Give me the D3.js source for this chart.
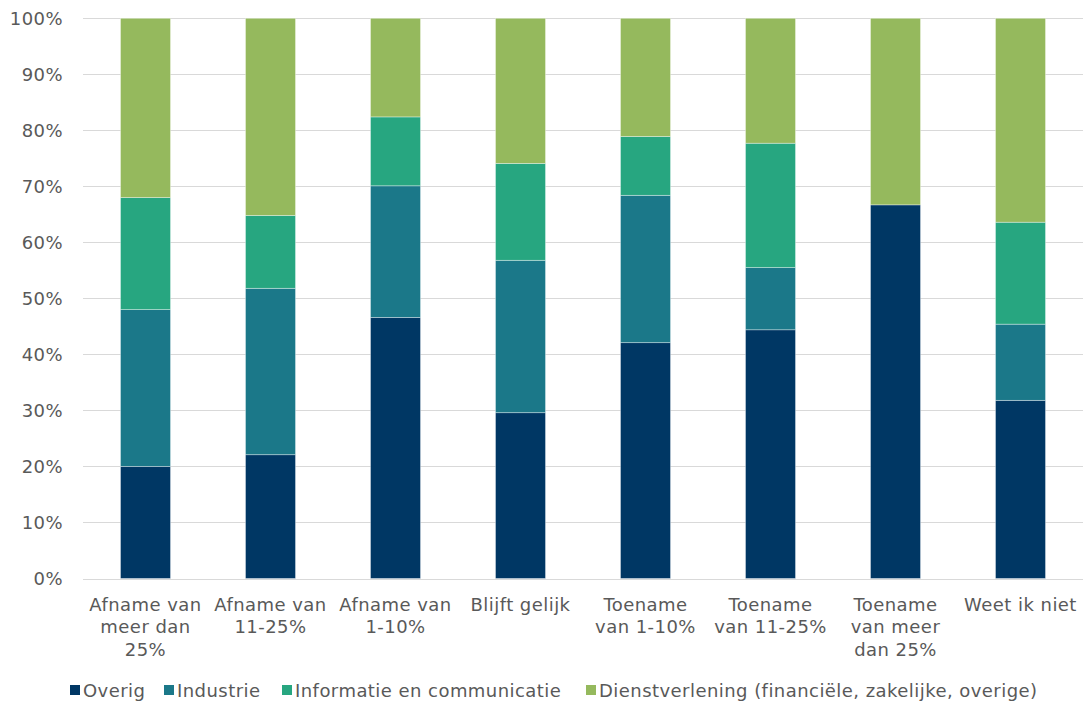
<!DOCTYPE html>
<html>
<head>
<meta charset="utf-8">
<script src="https://cdn.jsdelivr.net/npm/d3@7"></script>
<style>
  html, body { margin: 0; padding: 0; background: #fff; }
  svg { display: block; font-family: "DejaVu Sans", Verdana, sans-serif; }
  text { letter-spacing: 0.45px; }
</style>
</head>
<body>
<svg id="chart" width="1083" height="705"></svg>
<script>
// Categories along the x axis (each label broken into lines)
const categories = [
  ["Afname van", "meer dan", "25%"],
  ["Afname van", "11-25%"],
  ["Afname van", "1-10%"],
  ["Blijft gelijk"],
  ["Toename", "van 1-10%"],
  ["Toename", "van 11-25%"],
  ["Toename", "van meer", "dan 25%"],
  ["Weet ik niet"]
];

// Series shares in percent, one value per category
const seriesNames = ["Overig", "Industrie", "Informatie en communicatie", "Dienstverlening (financiële, zakelijke, overige)"];
const overig        = [20.0, 22.1, 46.6, 29.6, 42.1, 44.4, 66.7, 31.8];
const industrie     = [28.0, 29.7, 23.5, 27.2, 26.3, 11.1,  0.0, 13.6];
const informatie    = [20.0, 13.0, 12.3, 17.3, 10.5, 22.2,  0.0, 18.2];
const dienst        = [32.0, 35.2, 17.6, 25.9, 21.1, 22.3, 33.3, 36.4];

const seriesColors = ["#003764", "#1b7889", "#27a680", "#95b95d"];
const yTicks = [0, 10, 20, 30, 40, 50, 60, 70, 80, 90, 100];

const svg = d3.select("#chart");
const margin = { left: 83, right: 0, top: 18.3, bottom: 126.5 };
const W = 1083, H = 705;

const keys = ["overig", "industrie", "informatie", "dienst"];
const rows = categories.map((c, i) => ({
  idx: i,
  overig: overig[i], industrie: industrie[i], informatie: informatie[i], dienst: dienst[i]
}));

const x = d3.scaleBand()
  .domain(rows.map(r => r.idx))
  .range([margin.left, W - margin.right])
  .paddingInner(0.6)
  .paddingOuter(0.3);

const y = d3.scaleLinear()
  .domain([0, 100])
  .range([H - margin.bottom, margin.top]);

// Gridlines
svg.append("g")
  .selectAll("line")
  .data(yTicks)
  .join("line")
  .attr("x1", margin.left)
  .attr("x2", W - margin.right)
  .attr("y1", d => Math.round(y(d)) + 0.5)
  .attr("y2", d => Math.round(y(d)) + 0.5)
  .attr("stroke", "#d9d9d9")
  .attr("stroke-width", 1);

// Y axis labels
const yAxis = d3.axisLeft(y)
  .tickValues(yTicks)
  .tickFormat(d => d + "%")
  .tickSize(0)
  .tickPadding(20);
const gy = svg.append("g")
  .attr("transform", `translate(${margin.left},0)`)
  .call(yAxis);
gy.select(".domain").remove();
gy.selectAll("text")
  .attr("fill", "#595959")
  .style("font-size", "18px")
  .style("font-family", "'DejaVu Sans', Verdana, sans-serif");

// Stacked bars
const stacked = d3.stack().keys(keys)(rows);
svg.append("g")
  .selectAll("g")
  .data(stacked)
  .join("g")
  .attr("fill", (d, i) => seriesColors[i])
  .selectAll("rect")
  .data(d => d)
  .join("rect")
  .attr("x", d => x(d.data.idx))
  .attr("width", x.bandwidth())
  .attr("y", d => y(d[1]))
  .attr("height", d => Math.max(0, y(d[0]) - y(d[1])))
  .attr("stroke", "rgba(255,255,255,0.45)")
  .attr("stroke-width", 0.8);

// X axis category labels
const xLabels = svg.append("g");
rows.forEach((r, i) => {
  const cx = x(r.idx) + x.bandwidth() / 2;
  const t = xLabels.append("text")
    .attr("text-anchor", "middle")
    .attr("fill", "#595959")
    .style("font-size", "18px");
  categories[i].forEach((line, j) => {
    t.append("tspan")
      .attr("x", cx)
      .attr("y", 610.5 + j * 22.5)
      .text(line);
  });
});

// Legend
const legendX = [70, 164, 282, 586];
const legend = svg.append("g");
seriesNames.forEach((name, i) => {
  legend.append("rect")
    .attr("x", legendX[i])
    .attr("y", 685)
    .attr("width", 10)
    .attr("height", 10)
    .attr("fill", seriesColors[i]);
  legend.append("text")
    .attr("x", legendX[i] + 13)
    .attr("y", 697)
    .attr("fill", "#595959")
    .style("font-size", "18px")
    .text(name);
});
</script>
</body>
</html>
